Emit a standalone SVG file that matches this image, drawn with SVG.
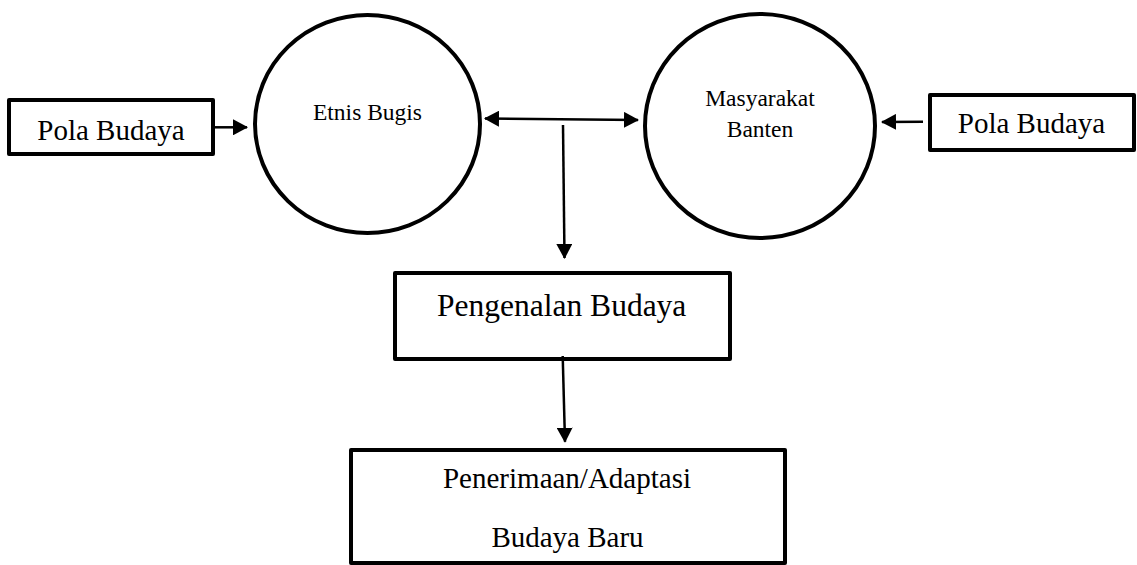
<svg xmlns="http://www.w3.org/2000/svg" width="1137" height="565" viewBox="0 0 1137 565">
  <style>
    .box { fill: #ffffff; stroke: #000000; stroke-width: 4; stroke-linejoin: round; }
    .circ { fill: #ffffff; stroke: #000000; stroke-width: 4; }
    .lbl { font-family: "Liberation Serif", "Times New Roman", serif; fill: #000000; text-anchor: middle; }
    .big { font-size: 29px; }
    .mid { font-size: 31.5px; }
    .sm { font-size: 23.5px; }
    .conn { stroke: #000000; stroke-width: 2.5; fill: none; }
  </style>
  <defs>
    <marker id="arr" viewBox="0 0 15 16" refX="14" refY="8" markerWidth="15" markerHeight="16" markerUnits="userSpaceOnUse" orient="auto-start-reverse">
      <path d="M0,0 L15,8 L0,16 z" fill="#000000"/>
    </marker>
  </defs>
  <rect width="1137" height="565" fill="#ffffff"/>

  <g id="pola-budaya-left">
    <rect class="box" x="9" y="100" width="204" height="54"/>
    <text class="lbl big" x="111" y="140">Pola Budaya</text>
  </g>

  <g id="etnis-bugis">
    <ellipse class="circ" cx="367.5" cy="124" rx="112.5" ry="109"/>
    <text class="lbl sm" x="367.5" y="120">Etnis Bugis</text>
  </g>

  <g id="masyarakat-banten">
    <ellipse class="circ" cx="760" cy="126" rx="115" ry="112"/>
    <text class="lbl sm" x="760" y="106">Masyarakat</text>
    <text class="lbl sm" x="760" y="137">Banten</text>
  </g>

  <g id="pola-budaya-right">
    <rect class="box" x="930" y="95" width="204" height="55"/>
    <text class="lbl big" x="1031.5" y="133">Pola Budaya</text>
  </g>

  <g id="pengenalan-budaya">
    <rect class="box" x="395" y="273" width="335" height="86"/>
    <text class="lbl mid" x="561.7" y="316">Pengenalan Budaya</text>
  </g>

  <g id="penerimaan-adaptasi">
    <rect class="box" x="351" y="450" width="434" height="113"/>
    <text class="lbl big" x="567" y="488">Penerimaan/Adaptasi</text>
    <text class="lbl big" x="567.5" y="546.5">Budaya Baru</text>
  </g>

  <g id="connectors">
    <line class="conn" x1="215" y1="127.3" x2="247" y2="127.3" marker-end="url(#arr)"/>
    <line class="conn" x1="485" y1="118.5" x2="638" y2="120" marker-start="url(#arr)" marker-end="url(#arr)"/>
    <line class="conn" x1="563" y1="125" x2="564.5" y2="258" marker-end="url(#arr)"/>
    <line class="conn" x1="923" y1="121.7" x2="882" y2="122" marker-end="url(#arr)"/>
    <line class="conn" x1="562.7" y1="356" x2="565" y2="441.7" marker-end="url(#arr)"/>
  </g>
</svg>
